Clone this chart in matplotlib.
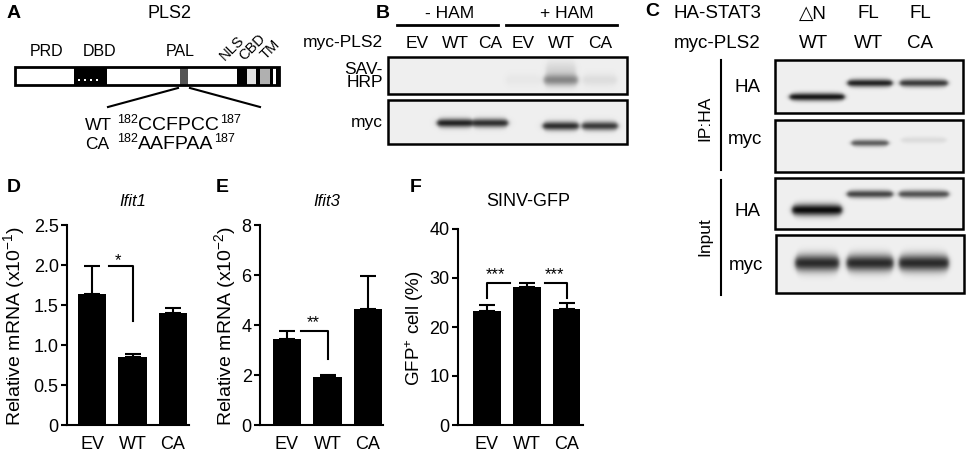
import numpy as np
import matplotlib
matplotlib.use('Agg')
import matplotlib.pyplot as plt
from matplotlib.patches import Rectangle

plt.rcParams['font.family'] = ['Liberation Sans', 'DejaVu Sans']
plt.rcParams['mathtext.fontset'] = 'custom'
plt.rcParams['mathtext.rm'] = 'Liberation Sans'
plt.rcParams['mathtext.it'] = 'Liberation Sans:italic'
plt.rcParams['mathtext.bf'] = 'Liberation Sans:bold'

W, H = 969, 459

# ---------------- data ----------------
groups = ['EV', 'WT', 'CA']
ifit1_mean = [1.64, 0.85, 1.40]
ifit1_err = [0.35, 0.035, 0.06]
ifit3_mean = [3.45, 1.92, 4.64]
ifit3_err = [0.33, 0.10, 1.32]
gfp_mean = [23.3, 28.2, 23.7]
gfp_err = [1.2, 0.8, 1.2]

ham_labels = ['- HAM', '+ HAM']
blotB_lanes = ['EV', 'WT', 'CA', 'EV', 'WT', 'CA']
blotB_sav = [0.0, 0.0, 0.0, 0.03, 0.42, 0.07]
blotB_myc = [0.0, 0.85, 0.80, 0.0, 0.80, 0.75]

stat3_labels = ['\u25b3N', 'FL', 'FL']
plsC_labels = ['WT', 'WT', 'CA']
ip_ha = [0.90, 0.85, 0.75]
ip_myc = [0.0, 0.60, 0.08]
in_ha = [0.95, 0.70, 0.65]
in_myc = [0.82, 0.82, 0.82]

seq_wt = 'CCFPCC'
seq_ca = 'AAFPAA'

# ---------------- figure ----------------
fig = plt.figure(figsize=(W / 100, H / 100), dpi=100)
ax0 = fig.add_axes([0, 0, 1, 1])
ax0.axis('off')
ax0.set_xlim(0, W)
ax0.set_ylim(H, 0)
renderer = fig.canvas.get_renderer()


def txt(x, y, s, **kw):
    kw.setdefault('ha', 'center')
    kw.setdefault('va', 'center')
    return ax0.text(x, y, s, **kw)


def blot(x0, x1, y0, y1, bands, bg=0.935):
    nx = int((x1 - x0) * 2)
    ny = int((y1 - y0) * 2)
    xs = np.linspace(x0, x1, nx)
    ys = np.linspace(y0, y1, ny)
    X, Y = np.meshgrid(xs, ys)
    keep = np.ones_like(X)
    for (cx, cy, w, sy, d) in bands:
        if d <= 0:
            continue
        u = (X - cx) / (w / 2.0)
        taper = np.clip(1 - u ** 6, 0, 1)
        px = 0.5 * (np.tanh((X - (cx - w / 2)) / 2.5) - np.tanh((X - (cx + w / 2)) / 2.5))
        syl = sy * (0.75 + 0.25 * taper)
        py = np.exp(-((Y - cy) / syl) ** 2)
        keep *= (1 - d * px * py)
    img = bg * keep
    ax0.imshow(np.clip(img, 0, 1), cmap='gray', vmin=0, vmax=1,
               extent=(x0, x1, y1, y0), aspect='auto', interpolation='bilinear', zorder=1)
    ax0.add_patch(Rectangle((x0, y0), x1 - x0, y1 - y0, fill=False, lw=1.8, ec='black', zorder=2))


# ---------------- Panel A ----------------
txt(14, 14, 'A', fontsize=14, fontweight='bold')
txt(170, 14, 'PLS2', fontsize=13)
segments = [(15, 74, 'white'), (74, 107, 'black'), (107, 180, 'white'), (180, 188, '#555555'),
            (188, 237, 'white'), (237, 247, 'black'), (247, 256, '#e2e2e2'), (256, 260, 'black'),
            (260, 270, '#b0b0b0'), (270, 273, 'black'), (273, 276, 'white'), (276, 279, 'black')]
for s0, s1, c in segments:
    ax0.add_patch(Rectangle((s0, 67), s1 - s0, 18, fc=c, ec='none', zorder=2))
ax0.add_patch(Rectangle((15, 67), 264, 18, fill=False, ec='black', lw=2, zorder=3))
for dx in [78, 84, 90, 96]:
    ax0.add_patch(Rectangle((dx, 79), 2, 2, fc='white', ec='none', zorder=3))
txt(47, 52, 'PRD', fontsize=11.5)
txt(100, 52, 'DBD', fontsize=11.5)
txt(180, 52, 'PAL', fontsize=11.5)
txt(225, 61, 'NLS', fontsize=10.5, rotation=45, rotation_mode='anchor', ha='left', va='baseline')
txt(244, 61, 'CBD', fontsize=10.5, rotation=45, rotation_mode='anchor', ha='left', va='baseline')
txt(266, 60, 'TM', fontsize=10.5, rotation=45, rotation_mode='anchor', ha='left', va='baseline')
ax0.plot([178, 108], [88, 107], color='black', lw=1.5)
ax0.plot([190, 260], [88, 107], color='black', lw=1.5)
for y, lab, s in [(130, 'WT', seq_wt), (149, 'CA', seq_ca)]:
    txt(85, y, lab, fontsize=12.5, ha='left', va='baseline')
    x = 117.0
    for piece, fs, dy in [('182', 9, -7), (s, 14, 0), ('187', 9, -7)]:
        t = txt(x, y + dy, piece, fontsize=fs, ha='left', va='baseline')
        bb = t.get_window_extent(renderer=renderer)
        x += bb.width + 0.5

# ---------------- Panel B ----------------
txt(383, 14, 'B', fontsize=14, fontweight='bold')
txt(450, 14, ham_labels[0], fontsize=12.5)
txt(567, 14, ham_labels[1], fontsize=12.5)
ax0.plot([397, 498], [25, 25], color='black', lw=2)
ax0.plot([506, 617], [25, 25], color='black', lw=2)
bx = [417, 455, 490, 523, 561, 600]
txt(383, 43, 'myc-PLS2', fontsize=12.5, ha='right')
for x, l in zip(bx, blotB_lanes):
    txt(x, 43, l, fontsize=12.5)
txt(383, 76, 'SAV-\nHRP', fontsize=12.5, ha='right', linespacing=0.9)
txt(383, 123, 'myc', fontsize=12.5, ha='right')
sav_bands = [(x, 80, 34, 6, d) for x, d in zip(bx, blotB_sav)] + [(561, 70, 30, 9, 0.10)]
blot(388, 627, 57, 94, sav_bands)
myc_bands = [(x, 123 if i < 3 else 126, 36, 4.5, d) for i, (x, d) in enumerate(zip(bx, blotB_myc))]
blot(388, 627, 100, 144, myc_bands)

# ---------------- Panel C ----------------
txt(652, 12, 'C', fontsize=14, fontweight='bold')
txt(674, 14, 'HA-STAT3', fontsize=13.5, ha='left')
txt(674, 43, 'myc-PLS2', fontsize=13.5, ha='left')
cx = [817, 870, 924]
for x, l1, l2 in zip([813, 868, 920], stat3_labels, plsC_labels):
    txt(x, 14, l1, fontsize=13.5)
    txt(x, 43, l2, fontsize=13.5)
ax0.plot([721, 721], [60, 170], color='black', lw=1.5)
ax0.plot([721, 721], [180, 295], color='black', lw=1.5)
txt(705, 118, 'IP:HA', fontsize=12.5, rotation=90)
txt(705, 237, 'Input', fontsize=12.5, rotation=90)
txt(748, 88, 'HA', fontsize=13.5)
txt(745, 140, 'myc', fontsize=13.5)
txt(748, 212, 'HA', fontsize=13.5)
txt(746, 265, 'myc', fontsize=13.5)
blot(775, 963, 60, 113, [(x, y, w, 4, d) for x, y, w, d in zip(cx, [97, 83, 83], [55, 45, 48], ip_ha)], bg=0.94)
blot(775, 963, 120, 172, [(x, y, w, 3.5, d) for x, y, w, d in zip(cx, [143, 143, 140], [40, 37, 45], ip_myc)], bg=0.94)
blot(775, 963, 178, 229, [(x, y, w, s, d) for x, y, w, s, d in zip(cx, [210, 194, 194], [50, 46, 50], [6, 4, 4], in_ha)], bg=0.94)
blot(776, 964, 235, 293, [(x, 263, w, 8.5, d) for x, w, d in zip(cx, [44, 47, 50], in_myc)], bg=0.94)

ax0.set_xlim(0, W)
ax0.set_ylim(H, 0)


# ---------------- bar panels ----------------
def bar_panel(left, right, top, bottom, c0, step, means, errs, ymax, yticks, yticklabels):
    ax = fig.add_axes([left / W, 1 - bottom / H, (right - left) / W, (bottom - top) / H])
    x = np.arange(len(means))
    ax.bar(x, means, width=0.70, color='black',
           yerr=(np.zeros(len(errs)), errs),
           error_kw=dict(ecolor='black', elinewidth=1.5, capsize=5.5, capthick=1.5))
    ax.set_xlim((left - c0) / step, (right - c0) / step)
    ax.set_ylim(0, ymax)
    ax.set_yticks(yticks)
    ax.set_yticklabels(yticklabels, fontsize=13)
    ax.set_xticks(x)
    ax.set_xticklabels(groups, fontsize=13)
    for s in ['top', 'right']:
        ax.spines[s].set_visible(False)
    for s in ['left', 'bottom']:
        ax.spines[s].set_linewidth(1.5)
    ax.tick_params(axis='y', length=4, width=1.5, pad=2)
    ax.tick_params(axis='x', length=0, pad=8)
    ax.patch.set_alpha(0)
    return ax


axD = bar_panel(67, 189, 225, 425, 92, 40.5, ifit1_mean, ifit1_err, 2.5,
                [0, 0.5, 1.0, 1.5, 2.0, 2.5], ['0', '0.5', '1.0', '1.5', '2.0', '2.5'])
axD.plot([0.42, 1.0, 1.0], [1.99, 1.99, 1.30], color='black', lw=1.5, clip_on=False)
axD.text(0.64, 2.0, '*', fontsize=12, ha='center', va='baseline')

axE = bar_panel(260, 383, 225, 425, 287, 40.5, ifit3_mean, ifit3_err, 8,
                [0, 2, 4, 6, 8], ['0', '2', '4', '6', '8'])
axE.plot([0.35, 1.0, 1.0], [3.78, 3.78, 2.65], color='black', lw=1.5, clip_on=False)
axE.text(0.64, 3.9, '**', fontsize=12, ha='center', va='baseline')

axF = bar_panel(458, 583, 229, 425, 487, 39.75, gfp_mean, gfp_err, 40,
                [0, 10, 20, 30, 40], ['0', '10', '20', '30', '40'])
axF.plot([0, 0, 0.58], [25.9, 29, 29], color='black', lw=1.5, clip_on=False)
axF.plot([1.45, 2.0, 2.0], [29, 29, 25.9], color='black', lw=1.5, clip_on=False)
axF.text(0.22, 29.8, '***', fontsize=12, ha='center', va='baseline')
axF.text(1.71, 29.8, '***', fontsize=12, ha='center', va='baseline')

# panel letters, titles, y labels
txt(14, 187, 'D', fontsize=14, fontweight='bold')
txt(222, 187, 'E', fontsize=14, fontweight='bold')
txt(416, 187, 'F', fontsize=14, fontweight='bold')
txt(133, 201, 'Ifit1', fontsize=12, style='italic')
txt(327, 201, 'Ifit3', fontsize=12, style='italic')
txt(528, 201, 'SINV-GFP', fontsize=13)
txt(14, 326, 'Relative mRNA (x10$^{-1}$)', fontsize=14, rotation=90)
txt(225, 326, 'Relative mRNA (x10$^{-2}$)', fontsize=14, rotation=90)
txt(415, 328, 'GFP$^{+}$ cell (%)', fontsize=13.5, rotation=90)

fig.savefig('out.png', dpi=100)
